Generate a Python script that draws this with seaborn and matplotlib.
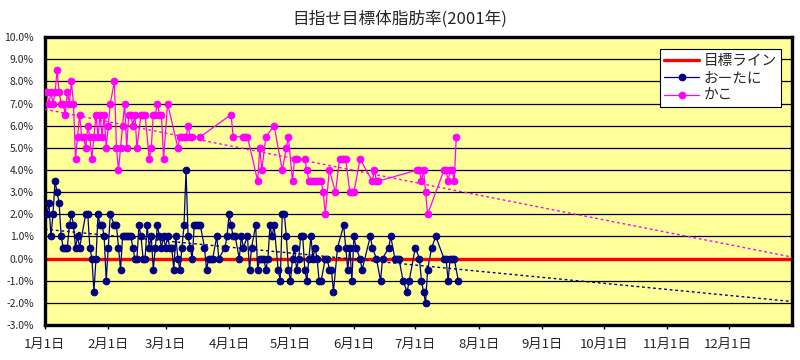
"""
Body fat target chart (2001) - recreated with seaborn.
"""

import numpy as np
import pandas as pd
import matplotlib
matplotlib.use("Agg")
import matplotlib.pyplot as plt
from matplotlib.ticker import FuncFormatter, MultipleLocator, FixedLocator
import matplotlib.dates as mdates
import seaborn as sns

# --- data (day offset from 2001-01-01, body fat change in %) ---
otani_days = [0, 1, 2, 3, 4, 5, 6, 7, 8, 9, 10, 11, 12, 13, 14, 15, 16, 17,
              20, 21, 22, 23, 24, 25, 26, 27, 28, 29, 30, 31, 32, 34, 35, 36,
              37, 38, 39, 40, 41, 42, 43, 44, 45, 46, 47, 48, 49, 50, 51, 52,
              53, 54, 55, 56, 57, 58, 59, 60, 61, 62, 63, 64, 65, 66, 67, 68,
              69, 70, 71, 72, 73, 74, 75, 76, 78, 79, 80, 81, 82, 84, 85, 88,
              89, 90, 91, 92, 93, 95, 96, 97, 99, 100, 101, 103, 104, 105, 106,
              107, 108, 109, 110, 111, 112, 114, 115, 116, 117, 118, 119, 120,
              121, 122, 123, 124, 125, 126, 127, 128, 129, 130, 131, 132, 133,
              134, 135, 137, 138, 139, 140, 141, 143, 146, 147, 148, 149, 150,
              151, 152, 154, 155, 159, 160, 162, 164, 165, 168, 169, 171, 172,
              173, 175, 177, 178, 181, 183, 184, 185, 186, 187, 189, 191, 195,
              196, 197, 198, 199, 200, 202]
otani_vals = [2.0, 2.0, 2.5, 1.0, 2.0, 3.5, 3.0, 2.5, 1.0, 0.5, 0.5, 0.5, 1.5,
              2.0, 1.5, 0.5, 1.0, 0.5,
              2.0, 2.0, 0.5, 0.0, -1.5, 0.0, 2.0, 1.5, 1.5, 1.0, -1.0, 0.5,
              2.0, 1.5, 1.5, 0.5,
              -0.5, 1.0, 1.0, 1.0, 1.0, 1.0, 0.5, 0.0, 0.0, 1.5, 1.0, 0.0, 0.0,
              1.5, 0.5, 1.0,
              -0.5, 0.5, 1.5, 1.0, 0.5, 1.0, 0.5, 1.0, 0.5, 0.5, -0.5, 1.0,
              0.0, -0.5, 0.5, 1.5,
              4.0, 1.0, 0.5, 0.0, 1.5, 1.5, 1.5, 1.5, 0.5, -0.5, 0.0, 0.0, 0.0,
              1.0, 0.0, 0.5,
              1.0, 2.0, 1.5, 1.0, 1.0, 0.0, 1.0, 0.5, 1.0, -0.5, 0.5, 1.5,
              -0.5, 0.0, 0.0,
              0.0, -0.5, 0.0, 1.5, 1.0, 1.5, -0.5, -1.0, 2.0, 2.0, 1.0, -0.5,
              -1.0,
              0.0, 0.5, -0.5, 0.0, 1.0, 1.0, -0.5, -1.0, 0.0, 1.0, 0.0, 0.5,
              0.0,
              -1.0, -1.0, 0.0, 0.0, -0.5, -0.5, -1.5, 0.5, 1.5, 0.5, -0.5, 0.5,
              -1.0,
              1.0, 0.5, 0.0, -0.5, 1.0, 0.5, 0.0, -1.0, 0.0, 0.5, 1.0, 0.0, 0.0,
              0.0, -1.0, -1.5, -1.0, 0.5, 0.0, -1.0, -1.5, -2.0, -0.5, 0.5, 1.0,
              0.0,
              0.0, -1.0, 0.0, 0.0, 0.0, -1.0]

kako_days = [0, 1, 2, 3, 4, 5, 6, 7, 8, 9, 10, 11, 12, 13, 14, 15, 16, 17,
             18, 19, 20, 21, 22, 23, 24, 25, 26, 27, 28, 29, 30, 31, 32, 34,
             35, 36, 37, 38, 39, 40, 41, 42, 43, 44, 45, 47, 48, 49, 51, 52,
             53, 54, 55, 56, 57, 58, 60, 65, 66, 67, 68, 69, 70, 71, 72, 76,
             91, 92, 97, 98, 99, 104, 105, 106, 108, 112, 116, 118, 119, 121,
             122, 123, 127, 128, 129, 130, 131, 132, 133, 134, 135, 136, 137,
             139,
             142, 144, 145, 146, 147, 149, 150, 151, 154, 160, 161, 162, 163,
             182, 183, 184, 185, 186, 187, 195, 196, 197, 198, 199, 200, 201]
kako_vals = [7.5, 7.5, 7.0, 7.5, 7.0, 7.5, 8.5, 7.5, 7.0, 7.0, 6.5, 7.5, 7.0,
             8.0, 7.0, 4.5, 5.5, 6.5,
             5.5, 5.5, 5.0, 6.0, 5.5, 4.5, 5.5, 6.5, 5.5, 6.5, 5.5, 6.5, 5.0,
             6.0, 7.0, 8.0,
             5.0, 4.0, 5.0, 6.0, 7.0, 5.0, 6.5, 6.5, 6.0, 6.5, 5.0, 6.5, 6.5,
             6.5, 4.5, 5.0,
             6.5, 6.5, 7.0, 6.5, 6.5, 4.5, 7.0, 5.0, 5.5, 5.5, 5.5, 5.5, 6.0,
             5.5, 5.5, 5.5,
             6.5, 5.5, 5.5, 5.5, 5.5, 3.5, 5.0, 4.0, 5.5, 6.0, 4.0, 5.0, 5.5,
             3.5,
             4.5, 4.5, 4.5, 4.0, 3.5, 3.5, 3.5, 3.5, 3.5, 3.5, 3.5, 3.0, 2.0,
             4.0,
             3.0, 4.5, 4.5, 4.5, 4.5, 3.0, 3.0, 3.0, 4.5, 3.5, 4.0, 3.5, 3.5,
             4.0, 4.0, 3.5, 4.0, 3.0, 2.0, 4.0, 4.0, 3.5, 4.0, 4.0, 3.5, 5.5]

goal_value = 0.0
year_start = "2001-01-01"
year_end = "2002-01-01"
title = "目指せ目標体脂肪率(2001年)"
labels = ["目標ライン", "おーたに", "かこ"]

NAVY = "#000080"
MAGENTA = "#FF00FF"
RED = "#FF0000"
BG = "#FFFF99"

start = pd.Timestamp(year_start)
end = pd.Timestamp(year_end)

otani = pd.DataFrame({"date": start + pd.to_timedelta(otani_days, unit="D"),
                      "value": otani_vals})
kako = pd.DataFrame({"date": start + pd.to_timedelta(kako_days, unit="D"),
                     "value": kako_vals})
month_starts = pd.date_range(start, periods=12, freq="MS")

sns.set_theme(style="white")
plt.rcParams["font.family"] = ["Noto Sans CJK JP", "DejaVu Sans"]

fig = plt.figure(figsize=(8, 3.6), dpi=100)
ax = fig.add_axes([0.056, 0.097, 0.934, 0.8])
ax.set_facecolor(BG)

# horizontal grid
for v in range(-3, 11):
    ax.axhline(v, color="black", lw=0.9, zorder=1)

# goal line
ax.plot([start, end], [goal_value, goal_value], color=RED, lw=2.4,
        label=labels[0], zorder=2)

# series
sns.lineplot(data=otani, x="date", y="value", ax=ax, color=NAVY, lw=0.9,
             marker="o", markersize=4.8, markeredgecolor=NAVY,
             label=labels[1], zorder=4)
sns.lineplot(data=kako, x="date", y="value", ax=ax, color=MAGENTA, lw=0.9,
             marker="o", markersize=4.8, markeredgecolor=MAGENTA,
             label=labels[2], zorder=4)

# linear trend lines, extended to year end
trend_x = np.array([0, (end - start).days])
for days, vals, col in [(otani_days, otani_vals, NAVY),
                        (kako_days, kako_vals, MAGENTA)]:
    slope, icpt = np.polyfit(days, vals, 1)
    ax.plot(start + pd.to_timedelta(trend_x, unit="D"), slope * trend_x + icpt,
            color=col, lw=1.0, ls=(0, (2, 2)), zorder=3)

ax.set_xlim(start, end)
ax.set_ylim(-3, 10)
ax.yaxis.set_major_locator(MultipleLocator(1))
ax.yaxis.set_major_formatter(FuncFormatter(lambda v, p: f"{v:.1f}%"))
ax.xaxis.set_major_locator(FixedLocator(mdates.date2num(month_starts)))
ax.xaxis.set_major_formatter(
    FuncFormatter(lambda v, p: f"{mdates.num2date(v).month}月1日"))
ax.tick_params(axis="x", direction="out", length=3, width=1, color="black",
               labelsize=9.5, pad=6, bottom=True)
ax.tick_params(axis="y", length=0, labelsize=7.5, pad=8)
ax.set_xlabel("")
ax.set_ylabel("")
for s in ax.spines.values():
    s.set_linewidth(2.4)
    s.set_color("black")

leg = ax.legend(loc="upper right", bbox_to_anchor=(0.995, 0.983),
                fontsize=10.5, frameon=True, fancybox=False, handlelength=2.4,
                borderpad=0.3, labelspacing=0.25, handletextpad=0.3)
leg.get_frame().set_edgecolor("black")
leg.get_frame().set_linewidth(0.8)
leg.get_frame().set_alpha(1)

fig.suptitle(title, x=0.5, y=0.97, fontsize=12)

plt.savefig("out.png", dpi=100)
